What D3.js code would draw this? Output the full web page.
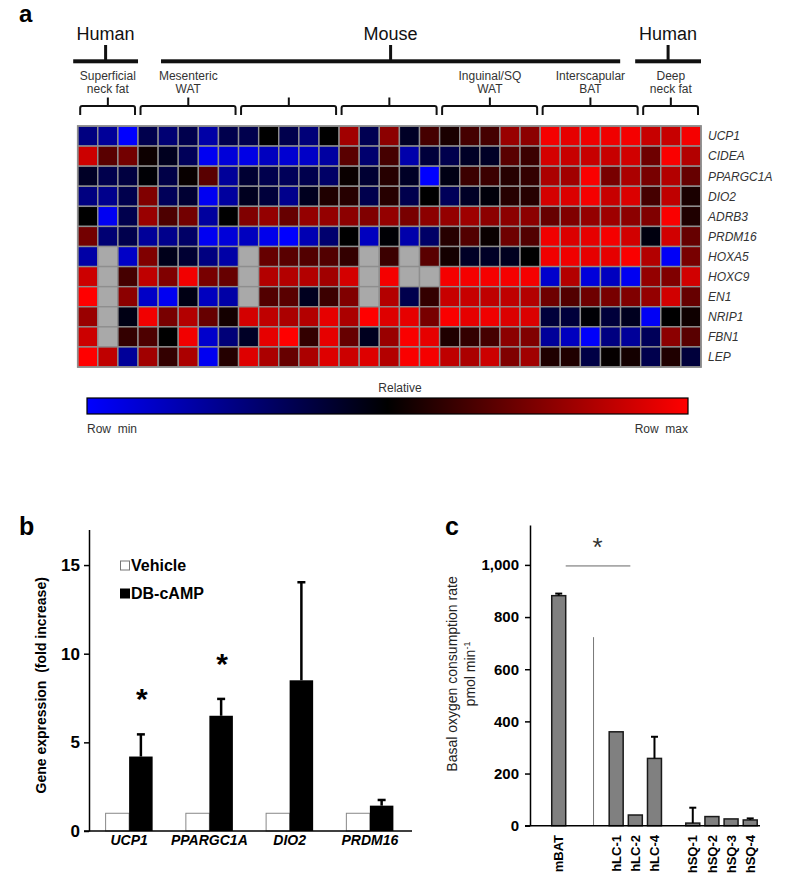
<!DOCTYPE html>
<html><head><meta charset="utf-8">
<script src="https://cdn.jsdelivr.net/npm/d3@7"></script>
<style>
body{margin:0;background:#fff;}
svg{display:block;font-family:Arial,"Liberation Sans",Helvetica,sans-serif;}
.pre{white-space:pre;}
</style></head><body>
<svg id="fig" width="791" height="896"></svg>
<script>
// ---------------- Panel a : heatmap data (row-relative, -1 = row min, +1 = row max, null = missing)
const heatGenes = ["UCP1","CIDEA","PPARGC1A","DIO2","ADRB3","PRDM16","HOXA5","HOXC9","EN1","NRIP1","FBN1","LEP"];
const hmUCP1    = [-0.5,-0.6,-1.0, -0.3,-0.45,-0.3,-0.65,-0.3, -0.3,0.0,-0.3,-0.47,0.0, 0.63,-0.32,0.55,-0.15,0.27, 0.1,0.27,0.27,0.6,0.55, 0.96,0.9,0.94,0.94,0.96, 0.78,0.78,0.96];
const hmCIDEA   = [0.8,0.35,0.45, 0.05,-0.12,-0.35,-0.95,-0.85, -0.9,-0.75,-0.82,-0.78,-0.63, 0.35,-0.43,0.27,-0.67,-0.23, -0.3,-0.15,-0.15,0.35,0.23, 0.83,0.78,0.78,0.78,0.82, 0.43,0.98,0.7];
const hmPPARGC1A= [-0.15,-0.3,-0.25, -0.02,-0.28,0.03,0.35,-0.6, -0.2,-0.3,-0.35,-0.3,-0.4, 0.04,-0.2,0.15,-0.15,-1.0, -0.08,0.23,0.23,0.15,0.2, 0.67,0.63,0.98,0.47,0.67, 0.47,0.7,0.4];
const hmDIO2    = [-0.5,-0.55,-0.3, 0.5,-0.35,-0.2,-0.95,-0.62, -0.12,-0.23,-0.55,-0.12,0.12, 0.15,-0.3,0.15,-0.3,0.0, -0.35,-0.15,-0.04,0.15,0.15, 0.83,0.86,0.96,0.78,0.86, 0.27,0.75,0.1];
const hmADRB3   = [0.0,-0.95,-0.3, 0.6,0.3,0.45,-0.62,0.0, 0.5,0.58,0.4,0.58,0.58, 0.55,0.5,0.58,0.47,0.55, 0.58,0.62,0.55,0.55,0.55, 0.4,0.5,0.58,0.62,0.55, 0.5,0.98,0.12];
const hmPRDM16  = [0.45,-0.45,-0.3, -0.6,-0.55,-0.4,-0.95,-0.85, -0.75,-0.92,-1.0,-0.7,-0.43, 0.0,-0.75,-0.02,-0.67,-0.4, 0.15,0.32,0.04,0.43,0.32, 0.94,0.86,0.9,0.96,0.82, -0.06,0.82,0.4];
const hmHOXA5   = [-0.65,null,-0.78, 0.5,-0.1,-0.2,-0.5,-0.65, null,0.4,0.35,0.32,0.32, 0.2,null,0.23,null,0.35, 0.08,-0.15,-0.15,-0.12,0.0, 0.94,0.94,0.9,0.9,0.98, 0.7,-0.97,0.47];
const hmHOXC9   = [0.8,null,0.27, 0.75,0.5,0.95,0.47,0.4, null,0.7,0.7,0.7,0.63, 0.83,null,0.96,null,null, 0.96,0.96,0.96,0.96,0.96, -0.8,0.7,-0.86,-0.75,-0.95, 0.58,0.5,0.82];
const hmEN1     = [1.0,null,0.55, -0.78,-0.95,-0.08,-0.75,-0.65, null,0.32,0.35,-0.12,0.23, 0.5,null,0.7,-0.3,0.2, 0.78,0.78,0.75,0.75,0.7, 0.43,0.32,0.43,0.47,0.5, 0.58,0.82,0.4];
const hmNRIP1   = [0.6,null,-0.08, 0.95,0.47,0.7,0.4,0.08, 0.83,0.75,0.67,0.7,0.9, 0.67,1.0,0.87,0.9,0.47, 0.98,0.9,0.94,0.86,0.86, -0.23,-0.23,-0.02,-0.23,-0.12, -0.96,0.0,0.06];
const hmFBN1    = [0.8,null,0.2, 0.3,0.0,0.95,-0.8,-0.47, -0.15,0.9,1.0,0.2,0.9, 0.4,-0.12,0.6,0.98,0.9, 0.12,0.2,0.27,0.55,0.5, -0.6,-0.75,-0.98,-0.5,-0.6, -0.35,0.55,0.35];
const hmLEP     = [1.0,0.75,-0.6, 0.63,0.2,0.67,-0.95,0.14, 0.87,0.67,0.4,0.67,0.87, 0.8,0.87,0.7,0.98,0.96, 0.75,0.67,0.8,0.5,0.63, 0.12,0.12,-0.27,0.02,0.08, -0.3,0.12,-0.23];
const heatValues = [hmUCP1,hmCIDEA,hmPPARGC1A,hmDIO2,hmADRB3,hmPRDM16,hmHOXA5,hmHOXC9,hmEN1,hmNRIP1,hmFBN1,hmLEP];

const groupSizes  = [3,5,5,5,5,5,3];
const groupLabels = [["Superficial","neck fat"],["Mesenteric","WAT"],[],[],["Inguinal/SQ","WAT"],["Interscapular","BAT"],["Deep","neck fat"]];
const speciesLabels = ["Human","Mouse","Human"];
const speciesGroups = [[0,0],[1,5],[6,6]];
const colorbarTitle = "Relative";
const colorbarEnds = ["Row  min","Row  max"];

// ---------------- Panel b data
const bGenes = ["UCP1","PPARGC1A","DIO2","PRDM16"];
const bSeries = ["Vehicle","DB-cAMP"];
const bVehicle = [1,1,1,1];
const bDBcAMP = [4.2,6.5,8.5,1.43];
const bDBcAMPErr = [1.25,0.95,5.53,0.32];
const bSignificant = [true,true,false,false];
const bTicks = [0,5,10,15];

// ---------------- Panel c data
const cSamples = ["mBAT","hLC-1","hLC-2","hLC-4","hSQ-1","hSQ-2","hSQ-3","hSQ-4"];
const cSlots = ["", "mBAT", " ", "  ", "hLC-1","hLC-2","hLC-4","   ","hSQ-1","hSQ-2","hSQ-3","hSQ-4"];
const cOCR = [882,360,41,258,10,35,26,22];
const cOCRErr = [8,0,0,83,59,0,0,6];
const cTicks = [0,200,400,600,800,1000];

// =====================================================================
const svg = d3.select("#fig");
const FONT_DARK = "#111";

// ---------------- Panel a
svg.append("text").attr("x",19).attr("y",22).attr("font-size",24).attr("font-weight","bold").text("a");

const nCols = hmUCP1.length;
const hmX = d3.scaleBand().domain(d3.range(nCols)).range([77.7,701]);
const hmY = d3.scaleBand().domain(heatGenes).range([126,367]);
const hmColor = d3.scaleLinear().domain([-1,0,1]).range(["#0000ff","#000000","#ff0000"]);
const bwH = hmX.bandwidth();

const groupStart = [];
groupSizes.reduce((acc,n)=>{groupStart.push(acc); return acc+n;},0);
const gx0 = i => hmX(groupStart[i]);
const gx1 = i => hmX(groupStart[i]+groupSizes[i]-1)+bwH;

// brackets & group labels
const hdr = svg.append("g").attr("fill","none").attr("stroke",FONT_DARK).attr("stroke-width",2);
groupSizes.forEach((n,i)=>{
  const x1 = gx0(i)+2.5, x2 = gx1(i)-3, cx=(gx0(i)+gx1(i))/2;
  hdr.append("path").attr("d",`M${x1},115 L${x1},108 Q${x1},106 ${x1+2},106 L${x2-2},106 Q${x2},106 ${x2},108 L${x2},115 M${cx},106 L${cx},97.5`);
  groupLabels[i].forEach((t,k)=>{
    svg.append("text").attr("x",cx).attr("y",80+k*12.8).attr("text-anchor","middle")
      .attr("font-size",12).attr("fill","#333").text(t);
  });
});
// species bars
const speciesExt = [[-4.5,0],[23,-20.5],[-5.5,0]];
speciesLabels.forEach((s,i)=>{
  const a = gx0(speciesGroups[i][0])+speciesExt[i][0];
  const b = gx1(speciesGroups[i][1])+speciesExt[i][1];
  const cx=(a+b)/2;
  svg.append("rect").attr("x",a).attr("y",59.3).attr("width",b-a).attr("height",4).attr("fill",FONT_DARK);
  svg.append("rect").attr("x",cx-1.5).attr("y",45).attr("width",3).attr("height",15).attr("fill",FONT_DARK);
  svg.append("text").attr("x",cx).attr("y",39.5).attr("text-anchor","middle").attr("font-size",18).attr("fill",FONT_DARK).text(s);
});

// cells
const cellG = svg.append("g");
heatGenes.forEach((g,i)=>{
  cellG.selectAll(null).data(heatValues[i]).join("rect")
    .attr("x",(d,j)=>hmX(j)).attr("y",hmY(g))
    .attr("width",bwH).attr("height",hmY.bandwidth())
    .attr("fill",d=> d==null ? "#a9a9a9" : hmColor(d))
    .attr("stroke","#8e8e8e").attr("stroke-width",1.4);
});
svg.append("rect").attr("x",hmX.range()[0]).attr("y",hmY.range()[0])
  .attr("width",hmX.range()[1]-hmX.range()[0]).attr("height",hmY.range()[1]-hmY.range()[0])
  .attr("fill","none").attr("stroke","#8e8e8e").attr("stroke-width",1.6);
// row labels
svg.append("g").selectAll("text").data(heatGenes).join("text")
  .attr("x",708).attr("y",d=>hmY(d)+hmY.bandwidth()/2).attr("dy","0.36em")
  .attr("font-size",12).attr("font-style","italic").attr("fill","#333").text(d=>d);

// colorbar
const defs = svg.append("defs");
const grad = defs.append("linearGradient").attr("id","cbar");
[-1,-0.5,0,0.5,1].forEach(v=>grad.append("stop").attr("offset",((v+1)/2*100)+"%").attr("stop-color",hmColor(v)));
const cbX = d3.scaleLinear().domain([-1,1]).range([87,688]);
svg.append("rect").attr("x",cbX(-1)).attr("y",398).attr("width",cbX(1)-cbX(-1)).attr("height",16)
  .attr("fill","url(#cbar)").attr("stroke","#000").attr("stroke-width",1.2);
svg.append("text").attr("x",400).attr("y",392).attr("text-anchor","middle").attr("font-size",12).attr("fill","#333").text(colorbarTitle);
svg.append("text").attr("class","pre").attr("x",cbX(-1)).attr("y",433).attr("font-size",12).attr("fill","#333").text(colorbarEnds[0]);
svg.append("text").attr("class","pre").attr("x",cbX(1)).attr("y",433).attr("text-anchor","end").attr("font-size",12).attr("fill","#333").text(colorbarEnds[1]);

// ---------------- Panel b
svg.append("text").attr("x",19).attr("y",535).attr("font-size",25).attr("font-weight","bold").text("b");
const yB = d3.scaleLinear().domain([0,17]).range([831,529.6]);
const x0 = d3.scaleBand().domain(bGenes).range([89,410]).paddingInner(0.414).paddingOuter(0.207);
const x1 = d3.scaleBand().domain(bSeries).range([0,x0.bandwidth()]);

const bG = svg.append("g");
bG.selectAll(".veh").data(bVehicle).join("rect").attr("class","veh")
  .attr("x",(d,i)=>x0(bGenes[i])+x1("Vehicle")).attr("y",d=>yB(d))
  .attr("width",x1.bandwidth()).attr("height",d=>yB(0)-yB(d))
  .attr("fill","#fff").attr("stroke","#888").attr("stroke-width",1);
bG.selectAll(".db").data(bDBcAMP).join("rect").attr("class","db")
  .attr("x",(d,i)=>x0(bGenes[i])+x1("DB-cAMP")).attr("y",d=>yB(d))
  .attr("width",x1.bandwidth()).attr("height",d=>yB(0)-yB(d)).attr("fill","#000");
bDBcAMP.forEach((v,i)=>{
  const cx = x0(bGenes[i])+x1("DB-cAMP")+x1.bandwidth()/2;
  const top = yB(v+bDBcAMPErr[i]);
  bG.append("line").attr("x1",cx).attr("x2",cx).attr("y1",yB(v)).attr("y2",top).attr("stroke","#000").attr("stroke-width",2.5);
  bG.append("line").attr("x1",cx-4).attr("x2",cx+4).attr("y1",top).attr("y2",top).attr("stroke","#000").attr("stroke-width",2.5);
  if(bSignificant[i]){
    bG.append("text").attr("x",cx+1).attr("y",top-42+17).attr("text-anchor","middle")
      .attr("font-size",30).attr("font-weight","bold").text("*");
  }
});
// axes
const axB = svg.append("g").attr("transform",`translate(${x0.range()[0]},0)`)
  .call(d3.axisLeft(yB).tickValues(bTicks).tickSize(5).tickSizeOuter(0).tickPadding(4).tickFormat(d3.format("d")));
axB.select(".domain").attr("stroke","#000").attr("stroke-width",1.5);
axB.selectAll(".tick line").attr("stroke","#000").attr("stroke-width",1.5);
axB.selectAll(".tick text").attr("font-size",17).attr("font-weight","bold").attr("fill","#000").attr("font-family","Arial,'Liberation Sans',sans-serif");
svg.append("line").attr("x1",x0.range()[0]-5).attr("x2",x0.range()[1]+2).attr("y1",yB(0)).attr("y2",yB(0))
  .attr("stroke","#000").attr("stroke-width",1.5);
svg.append("g").selectAll("text").data(bGenes).join("text")
  .attr("x",d=>x0(d)+x0.bandwidth()/2).attr("y",845).attr("text-anchor","middle")
  .attr("font-size",14).attr("font-weight","bold").attr("font-style","italic").text(d=>d);
svg.append("text").attr("class","pre").attr("transform",`translate(46,${(yB(0)+yB(17))/2+5}) rotate(-90)`)
  .attr("text-anchor","middle").attr("font-size",14).attr("font-weight","bold").text("Gene expression  (fold increase)");
// legend
const legB = svg.append("g");
legB.append("rect").attr("x",120.5).attr("y",561).attr("width",9).attr("height",9).attr("fill","#fff").attr("stroke","#777").attr("stroke-width",1);
legB.append("text").attr("x",131).attr("y",570.5).attr("font-size",16).attr("font-weight","bold").text(bSeries[0]);
legB.append("rect").attr("x",120).attr("y",588.5).attr("width",10).attr("height",10).attr("fill","#000");
legB.append("text").attr("x",131).attr("y",598.5).attr("font-size",16).attr("font-weight","bold").text(bSeries[1]);

// ---------------- Panel c
svg.append("text").attr("x",445).attr("y",535).attr("font-size",25).attr("font-weight","bold").text("c");
const yC = d3.scaleLinear().domain([0,1153]).range([825.7,525]);
const xC = d3.scaleBand().domain(cSlots).range([530,759.8]).paddingInner(0.27).paddingOuter(0.135);
const cG = svg.append("g");
cG.selectAll("rect").data(cOCR).join("rect")
  .attr("x",(d,i)=>xC(cSamples[i])).attr("y",d=>yC(d))
  .attr("width",xC.bandwidth()).attr("height",d=>yC(0)-yC(d))
  .attr("fill","#808080").attr("stroke","#1a1a1a").attr("stroke-width",1.5);
cOCR.forEach((v,i)=>{
  if(!cOCRErr[i]) return;
  const cx = xC(cSamples[i])+xC.bandwidth()/2, top=yC(v+cOCRErr[i]);
  cG.append("line").attr("x1",cx).attr("x2",cx).attr("y1",yC(v)).attr("y2",top).attr("stroke","#000").attr("stroke-width",2);
  cG.append("line").attr("x1",cx-3.5).attr("x2",cx+3.5).attr("y1",top).attr("y2",top).attr("stroke","#000").attr("stroke-width",2);
});
// separator line and significance
svg.append("line").attr("x1",xC("  ")+3.5).attr("x2",xC("  ")+3.5).attr("y1",yC(723)).attr("y2",yC(0)).attr("stroke","#777").attr("stroke-width",1);
svg.append("line").attr("x1",xC("mBAT")+xC.bandwidth()).attr("x2",xC("hLC-2")+2).attr("y1",yC(996)).attr("y2",yC(996)).attr("stroke","#666").attr("stroke-width",1);
svg.append("text").attr("x",597.5).attr("y",556).attr("text-anchor","middle").attr("font-size",26).attr("fill","#333").text("*");
const axC = svg.append("g").attr("transform",`translate(530,0)`)
  .call(d3.axisLeft(yC).tickValues(cTicks).tickSize(5).tickSizeOuter(0).tickPadding(6).tickFormat(d3.format(",")));
axC.select(".domain").attr("stroke","#000").attr("stroke-width",1.5);
axC.selectAll(".tick line").attr("stroke","#000").attr("stroke-width",1.5);
axC.selectAll(".tick text").attr("font-size",15).attr("font-weight","bold").attr("fill","#000").attr("font-family","Arial,'Liberation Sans',sans-serif");
svg.append("line").attr("x1",525).attr("x2",760).attr("y1",yC(0)).attr("y2",yC(0)).attr("stroke","#000").attr("stroke-width",1.5);
svg.append("g").selectAll("text").data(cSamples).join("text")
  .attr("transform",d=>`translate(${xC(d)+xC.bandwidth()/2},835) rotate(-90)`)
  .attr("dy","0.36em").attr("text-anchor","end").attr("font-size",13).attr("font-weight","bold").text(d=>d);
const cTitleY = 674;
svg.append("text").attr("transform",`translate(456.5,${cTitleY}) rotate(-90)`).attr("text-anchor","middle")
  .attr("font-size",14).attr("fill","#222").text("Basal oxygen consumption rate");
const t2 = svg.append("text").attr("transform",`translate(474.5,${cTitleY}) rotate(-90)`).attr("text-anchor","middle")
  .attr("font-size",14).attr("fill","#222");
t2.append("tspan").text("pmol min");
t2.append("tspan").attr("font-size",9).attr("dy",-5).text("-1");
</script></body></html>
